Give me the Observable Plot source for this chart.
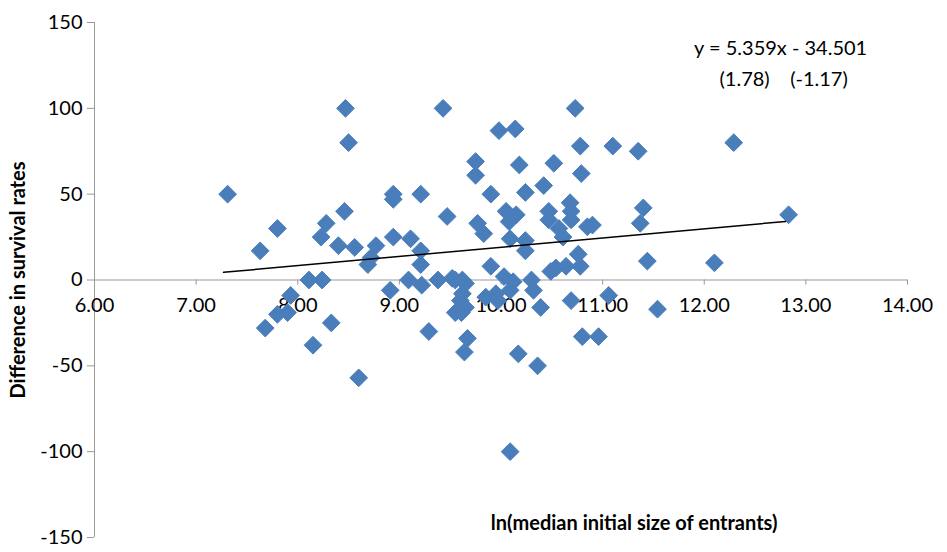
<!DOCTYPE html>
<html><head><meta charset="utf-8">
<script src="https://cdn.jsdelivr.net/npm/d3@7"></script>
<script src="https://cdn.jsdelivr.net/npm/@observablehq/plot@0.6"></script>
<style>body{margin:0;background:#fff;font-family:Lato,"Open Sans",sans-serif}</style>
</head><body><div id="chart"></div>
<script>
const xs = [7.31,7.63,7.80,7.68,7.80,7.93,7.90,8.11,8.24,8.15,8.33,8.23,8.28,8.40,8.46,8.47,8.50,8.56,8.60,8.69,8.72,8.77,8.91,8.94,8.94,8.94,9.09,9.11,9.21,9.21,9.21,9.22,9.29,9.38,9.43,9.47,9.52,9.55,9.62,9.65,9.62,9.60,9.65,9.61,9.55,9.64,9.67,9.75,9.75,9.77,9.83,9.90,9.90,9.97,9.98,10.05,10.08,10.09,10.09,10.14,10.17,10.18,10.09,10.12,10.03,10.15,10.24,10.24,10.24,10.30,10.32,10.39,10.36,10.42,10.47,10.47,10.49,10.52,10.54,10.57,10.61,10.64,10.69,10.69,10.68,10.69,10.73,10.76,10.78,10.79,10.80,10.78,10.85,10.90,10.96,11.06,11.10,11.35,11.37,11.40,11.44,11.54,12.10,12.29,12.83,9.95,9.85];
const ys = [50,17,30,-28,-20,-9,-19,0,0,-38,-25,25,33,20,40,100,80,19,-57,9,13,20,-6,50,47,25,0,24,9,17,50,-3,-30,0,100,37,1,0,0,-2,-8,-12,-16,-19,-19,-42,-34,69,61,33,27,50,8,-12,87,40,34,24,-100,88,-43,67,-6,-1,2,38,23,51,17,0,-6,-16,-50,55,35,40,5,68,7,30,25,8,35,40,45,-12,100,15,78,62,-33,8,31,32,-33,-9,78,75,33,42,11,-17,10,80,38,-8,-10];
const xticks = [6,7,8,9,10,11,12,13,14];
const yticks = [-150,-100,-50,0,50,100,150];
const slope = 5.359, intercept = -34.501;
const fitX = [7.27, 12.8];

const pts = xs.map((x, i) => ({x, y: ys[i]}));
const fit = fitX.map(x => ({x, y: slope * x + intercept}));

const chart = Plot.plot({
  width: 947, height: 552,
  marginLeft: 94, marginRight: 40, marginTop: 22, marginBottom: 15,
  x: {domain: [6, 14], axis: null},
  y: {domain: [-150, 150], axis: null},
  style: {fontFamily: "Lato, 'Open Sans', sans-serif", fontSize: "19px"},
  marks: [
    Plot.ruleY([0], {x1: 6, x2: 14, stroke: "#999"}),
    Plot.ruleX([6], {y1: -150, y2: 150, stroke: "#999"}),
    Plot.ruleX(xticks, {y1: 0, y2: -3, stroke: "#999"}),
    Plot.ruleY(yticks, {x1: 5.93, x2: 6, stroke: "#999"}),
    Plot.text(xticks, {x: d => d, y: 0, dy: 26, text: d => d.toFixed(2), fontSize: 20}),
    Plot.text(yticks, {x: 6, y: d => d, dx: -12, textAnchor: "end", text: d => d, fontSize: 20}),
    Plot.dot(pts, {x: "x", y: "y", symbol: "diamond2", r: 8, fill: "#4a7ebb", stroke: "#4a7ebb", strokeWidth: 1}),
    Plot.line(fit, {x: "x", y: "y", stroke: "black", strokeWidth: 1.5}),
    Plot.text(["y = 5.359x - 34.501"], {x: 11.9, y: 135, text: d => d, textAnchor: "start", fontSize: 20}),
    Plot.text(["(1.78)    (-1.17)"], {x: 12.15, y: 117, text: d => d, textAnchor: "start", fontSize: 20}),
    Plot.text(["ln(median initial size of entrants)"], {x: 11.31, y: -142, text: d => d, fontWeight: "bold", fontSize: 20}),
    Plot.text(["Difference in survival rates"], {x: 6, y: 0, dx: -76, rotate: -90, text: d => d, fontWeight: "bold", fontSize: 20})
  ]
});
document.getElementById("chart").appendChild(chart);
</script></body></html>
